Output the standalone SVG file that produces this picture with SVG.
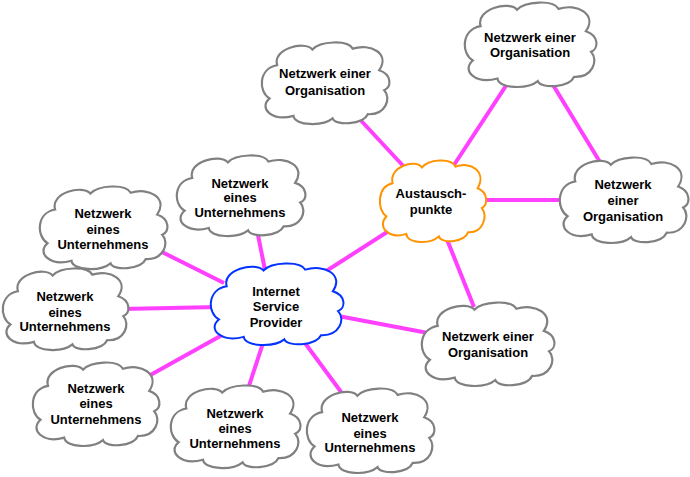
<svg xmlns="http://www.w3.org/2000/svg" xmlns:xlink="http://www.w3.org/1999/xlink" width="690" height="477" viewBox="0 0 690 477">
<style>
.c{fill:#ffffff;stroke:#808080;stroke-width:2.2}
.isp{fill:#ffffff;stroke:#0433ff;stroke-width:2}
.ix{fill:#ffffff;stroke:#ff9300;stroke-width:2}
.ln{stroke:#ff40ff;stroke-width:4;fill:none;stroke-linecap:butt}
text{font-family:"Liberation Sans",Arial,Helvetica,sans-serif;font-size:13px;font-weight:bold;fill:#000000;text-anchor:middle}
</style>
<defs>
<path id="cloud" vector-effect="non-scaling-stroke" d="M 12 28 C 8 8, 34 -2, 40 9 C 46 -1, 68 -3, 72 8 C 86 1, 102 14, 93 34 C 103 39, 103 54, 97 58 C 103 68, 98 88, 84 87 C 80 100, 58 101, 56 92 C 48 102, 26 101, 25 89 C 8 96, -3 80, 6 68 C -3 60, -3 32, 12 28 Z"/>
</defs>
<g id="connectors">
<line class="ln" x1="257" y1="230" x2="265" y2="270"/>
<line class="ln" x1="320" y1="275" x2="395" y2="227"/>
<line class="ln" x1="158" y1="250" x2="224" y2="283"/>
<line class="ln" x1="122" y1="309" x2="218" y2="307"/>
<line class="ln" x1="145" y1="378" x2="224" y2="334"/>
<line class="ln" x1="246" y1="395" x2="264" y2="340"/>
<line class="ln" x1="302" y1="339" x2="347" y2="400"/>
<line class="ln" x1="333" y1="315" x2="428" y2="333"/>
<line class="ln" x1="353" y1="112" x2="407" y2="170"/>
<line class="ln" x1="511" y1="78" x2="452" y2="168"/>
<line class="ln" x1="550" y1="80" x2="603" y2="167"/>
<line class="ln" x1="477" y1="200" x2="568" y2="200"/>
<line class="ln" x1="446" y1="237" x2="474" y2="307"/>
</g>
<g id="isp">
<use xlink:href="#cloud" class="isp" transform="translate(211 263) scale(1.31 0.83)"/>
<text x="276" y="295.5">Internet</text>
<text x="276" y="311">Service</text>
<text x="276" y="326.5">Provider</text>
</g>
<g id="austausch">
<use xlink:href="#cloud" class="ix" transform="translate(380 160) scale(1.05 0.83)"/>
<text x="431" y="197.5">Austausch-</text>
<text x="431" y="213.5">punkte</text>
</g>
<g id="org-top">
<use xlink:href="#cloud" class="c" transform="translate(262 42) scale(1.26 0.83)"/>
<text x="325" y="78">Netzwerk einer</text>
<text x="325" y="94.5">Organisation</text>
</g>
<g id="org-topright">
<use xlink:href="#cloud" class="c" transform="translate(465 2) scale(1.30 0.86)"/>
<text x="530" y="41.5">Netzwerk einer</text>
<text x="530" y="57">Organisation</text>
</g>
<g id="org-right">
<use xlink:href="#cloud" class="c" transform="translate(560 157) scale(1.27 0.87)"/>
<text x="623" y="188.5">Netzwerk</text>
<text x="623" y="205">einer</text>
<text x="623" y="220.5">Organisation</text>
</g>
<g id="org-bottom">
<use xlink:href="#cloud" class="c" transform="translate(422 302) scale(1.31 0.85)"/>
<text x="488" y="340.5">Netzwerk einer</text>
<text x="488" y="356.5">Organisation</text>
</g>
<g id="unt-topcenter">
<use xlink:href="#cloud" class="c" transform="translate(177 155) scale(1.27 0.82)"/>
<text x="240" y="187.5">Netzwerk</text>
<text x="240" y="202">eines</text>
<text x="240" y="217">Unternehmens</text>
</g>
<g id="unt-lefttop">
<use xlink:href="#cloud" class="c" transform="translate(40 186) scale(1.26 0.84)"/>
<text x="103" y="217.5">Netzwerk</text>
<text x="103" y="233.5">eines</text>
<text x="103" y="248.5">Unternehmens</text>
</g>
<g id="unt-leftmid">
<use xlink:href="#cloud" class="c" transform="translate(3 268) scale(1.24 0.83)"/>
<text x="65" y="300.5">Netzwerk</text>
<text x="65" y="316.5">eines</text>
<text x="65" y="331">Unternehmens</text>
</g>
<g id="unt-leftbottom">
<use xlink:href="#cloud" class="c" transform="translate(33 362) scale(1.25 0.85)"/>
<text x="96" y="392.5">Netzwerk</text>
<text x="96" y="408">eines</text>
<text x="96" y="423.5">Unternehmens</text>
</g>
<g id="unt-bottommid">
<use xlink:href="#cloud" class="c" transform="translate(171 385) scale(1.28 0.84)"/>
<text x="235" y="417.5">Netzwerk</text>
<text x="235" y="433">eines</text>
<text x="235" y="448">Unternehmens</text>
</g>
<g id="unt-bottomright">
<use xlink:href="#cloud" class="c" transform="translate(307 388) scale(1.26 0.86)"/>
<text x="370" y="421.5">Netzwerk</text>
<text x="370" y="437.5">eines</text>
<text x="370" y="452">Unternehmens</text>
</g>
</svg>
